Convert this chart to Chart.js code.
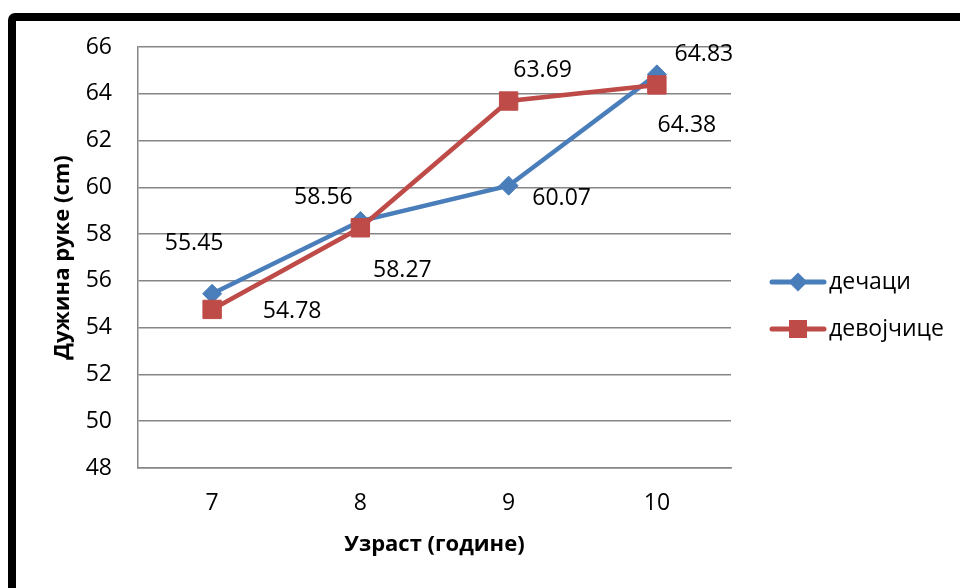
<!DOCTYPE html>
<html>
<head>
<meta charset="utf-8">
<script src="https://cdn.jsdelivr.net/npm/chart.js@4"></script>
<style>
  html, body { margin: 0; padding: 0; background: #ffffff; }
  body { width: 960px; height: 588px; position: relative; overflow: hidden; }
  #frame {
    position: absolute; left: 8px; top: 13px;
    width: 1000px; height: 1000px;
    border: 8px solid #000; border-radius: 7px;
    box-sizing: border-box;
  }
  #wrap { position: absolute; left: 0; top: 0; width: 960px; height: 588px; }
</style>
</head>
<body>
<div id="frame"></div>
<div id="wrap"><canvas id="c" width="960" height="588"></canvas></div>
<script>
// Age groups (years)
const ages = ['7', '8', '9', '10'];
// Mean arm length (cm)
const boys = [55.45, 58.56, 60.07, 64.83];
const girls = [54.78, 58.27, 63.69, 64.38];
const seriesNames = ['дечаци', 'девојчице'];
const yTitle = 'Дужина руке (cm)';
const xTitle = 'Узраст (године)';

const BLUE = '#4A7EBB';
const RED = '#BE4B48';
const FONT = "'Open Sans', 'Liberation Sans', sans-serif";

// Where each value label sits relative to its point (px)
const labelShift = [
  [[-18, -50], [-37, -24], [53, 13], [47, -20]],
  [[80, 2], [42, 43], [34, -31], [30, 41]]
];

const valueLabels = {
  id: 'valueLabels',
  afterDatasetsDraw(chart) {
    const ctx = chart.ctx;
    ctx.save();
    ctx.font = '23px ' + FONT;
    ctx.fillStyle = '#000';
    ctx.textAlign = 'center';
    ctx.textBaseline = 'middle';
    chart.data.datasets.forEach((ds, i) => {
      const meta = chart.getDatasetMeta(i);
      meta.data.forEach((pt, j) => {
        const [dx, dy] = labelShift[i][j];
        ctx.fillText(ds.data[j].toFixed(2), pt.x + dx, pt.y + dy);
      });
    });
    ctx.restore();
  }
};

// Legend on the right: line sample with its marker, then the name
const sideLegend = {
  id: 'sideLegend',
  afterDraw(chart) {
    const ctx = chart.ctx;
    const x0 = 772, x1 = 824, xm = 798, tx = 829;
    const rows = [282, 329];
    ctx.save();
    chart.data.datasets.forEach((ds, i) => {
      const y = rows[i];
      ctx.strokeStyle = ds.borderColor;
      ctx.lineWidth = 5;
      ctx.lineCap = 'round';
      ctx.beginPath();
      ctx.moveTo(x0, y); ctx.lineTo(x1, y);
      ctx.stroke();
      ctx.fillStyle = ds.pointBackgroundColor;
      ctx.beginPath();
      if (ds.pointStyle === 'rectRot') {
        const r = 9.5;
        ctx.moveTo(xm - r, y); ctx.lineTo(xm, y - r);
        ctx.lineTo(xm + r, y); ctx.lineTo(xm, y + r);
        ctx.closePath();
      } else {
        ctx.rect(xm - 9, y - 9, 18, 18);
      }
      ctx.fill();
      ctx.fillStyle = '#000';
      ctx.font = '23px ' + FONT;
      ctx.textAlign = 'left';
      ctx.textBaseline = 'middle';
      ctx.fillText(ds.label, tx, y);
    });
    ctx.restore();
  }
};

new Chart(document.getElementById('c'), {
  type: 'line',
  data: {
    labels: ages,
    datasets: [
      {
        label: seriesNames[0], data: boys, order: 1,
        borderColor: BLUE, backgroundColor: BLUE,
        pointBackgroundColor: BLUE, pointBorderColor: BLUE,
        borderWidth: 4.5, pointStyle: 'rectRot', pointRadius: 9.5, pointBorderWidth: 1,
        tension: 0
      },
      {
        label: seriesNames[1], data: girls, order: 0,
        borderColor: RED, backgroundColor: RED,
        pointBackgroundColor: RED, pointBorderColor: RED,
        borderWidth: 4.5, pointStyle: 'rect', pointRadius: 13, pointBorderWidth: 1,
        tension: 0
      }
    ]
  },
  options: {
    responsive: false,
    animation: false,
    layout: { padding: { left: 0, top: 47, right: 229, bottom: 0 } },
    plugins: { legend: { display: false }, tooltip: { enabled: false } },
    scales: {
      x: {
        offset: true,
        grid: { display: false, drawTicks: false },
        border: { display: true, color: '#868686', width: 1.5 },
        ticks: { color: '#000', font: { family: FONT, size: 23 }, padding: 22 },
        title: {
          display: true, text: xTitle, color: '#000',
          font: { family: FONT, size: 22, weight: 'bold' },
          padding: { top: 0, bottom: 30 }
        },
        afterFit(scale) { scale.height = 120; }
      },
      y: {
        min: 48, max: 66,
        ticks: { stepSize: 2, color: '#000', font: { family: FONT, size: 23 }, padding: 26 },
        grid: { color: '#868686', lineWidth: 1.5, drawTicks: false },
        border: { display: true, color: '#868686', width: 1.5 },
        title: {
          display: true, text: yTitle, color: '#000',
          font: { family: FONT, size: 22, weight: 'bold' },
          padding: { top: 50, bottom: 0 }
        },
        afterFit(scale) { scale.width = 138; }
      }
    }
  },
  plugins: [valueLabels, sideLegend]
});
</script>
</body>
</html>
